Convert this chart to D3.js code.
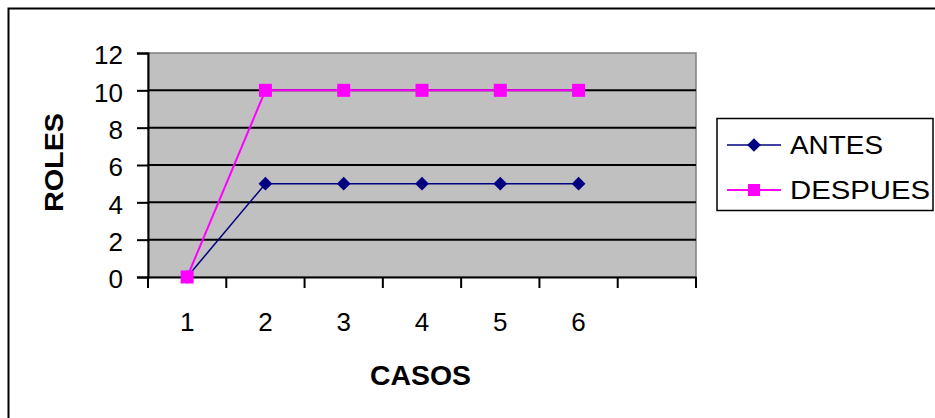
<!DOCTYPE html>
<html><head><meta charset="utf-8">
<script src="https://cdn.jsdelivr.net/npm/d3@7"></script>
<style>body{margin:0;background:#fff}svg{display:block}text{font-family:Arial,"Liberation Sans",sans-serif}</style>
</head><body>
<svg id="c" width="935" height="418"></svg>
<script>
const categories = ["1","2","3","4","5","6",""];
const antes = [0,5,5,5,5,5];
const despues = [0,10,10,10,10,10];
const yTicks = [0,2,4,6,8,10,12];
const seriesNames = ["ANTES","DESPUES"];

const svg = d3.select("#c");
const L=148,R=696,T=53,B=277;
// outer border
svg.append("rect").attr("x",8.5).attr("y",8.5).attr("width",940).attr("height",420)
  .attr("fill","#fff").attr("stroke","#000").attr("stroke-width",2);

const x = d3.scaleBand().domain(d3.range(categories.length)).range([L,R]).padding(0);
const y = d3.scaleLinear().domain([0,12]).range([B,T]);

svg.append("rect").attr("x",L).attr("y",T).attr("width",R-L).attr("height",B-T)
  .attr("fill","#C0C0C0").attr("stroke","#808080").attr("stroke-width",1.5);

// gridlines
svg.append("g").selectAll("line").data(yTicks.filter(d=>d>0&&d<12)).join("line")
  .attr("x1",L).attr("x2",R).attr("y1",d=>y(d)).attr("y2",d=>y(d))
  .attr("stroke","#000").attr("stroke-width",2);

// y axis
const ya = svg.append("g").attr("transform",`translate(${L},0)`)
  .call(d3.axisLeft(y).tickValues(yTicks).tickSize(11).tickPadding(14));
ya.select(".domain").attr("stroke","#000").attr("stroke-width",2);
ya.selectAll(".tick line").attr("stroke","#000").attr("stroke-width",2);
ya.selectAll("text").attr("font-size",26).attr("fill","#000").attr("dy","0.42em");

// x axis
const xa = svg.append("g").attr("transform",`translate(0,${B})`)
  .call(d3.axisBottom(x).tickFormat(i=>categories[i]).tickSize(0).tickPadding(36));
xa.select(".domain").attr("stroke","#000").attr("stroke-width",2);
xa.selectAll("text").attr("font-size",26).attr("fill","#000");
const edges = d3.range(categories.length+1).map(i=> i<categories.length ? x(i) : x(categories.length-1)+x.bandwidth());
svg.append("g").selectAll("line").data(edges).join("line")
  .attr("x1",d=>d).attr("x2",d=>d).attr("y1",B).attr("y2",B+11)
  .attr("stroke","#000").attr("stroke-width",2);

const cx = i => x(i)+x.bandwidth()/2;
const line = d3.line().x((d,i)=>cx(i)).y(d=>y(d));
svg.append("path").datum(antes).attr("d",line).attr("fill","none").attr("stroke","#000080").attr("stroke-width",1.5);
svg.append("path").datum(despues).attr("d",line).attr("fill","none").attr("stroke","#FF00FF").attr("stroke-width",2);
const diamond = d3.symbol().type(d3.symbolDiamond2).size(120);
svg.append("g").selectAll("path").data(antes).join("path")
  .attr("d",diamond).attr("transform",(d,i)=>`translate(${cx(i)},${y(d)})`).attr("fill","#000080");
svg.append("g").selectAll("rect").data(despues).join("rect")
  .attr("x",(d,i)=>cx(i)-6.5).attr("y",d=>y(d)-6.5).attr("width",13).attr("height",13).attr("fill","#FF00FF");

// axis titles
svg.append("text").attr("x",370).attr("y",385)
  .attr("font-size",28).attr("font-weight","bold")
  .attr("textLength",101).attr("lengthAdjust","spacingAndGlyphs").text("CASOS");
svg.append("text").attr("transform","translate(63,212) rotate(-90)")
  .attr("font-size",26).attr("font-weight","bold")
  .attr("textLength",99).attr("lengthAdjust","spacingAndGlyphs").text("ROLES");

// legend
const lg = svg.append("g");
lg.append("rect").attr("x",717).attr("y",118.5).attr("width",216).attr("height",92)
  .attr("fill","#fff").attr("stroke","#000").attr("stroke-width",1.5);
const lc = ["#000080","#FF00FF"];
const tl = [93,140];
seriesNames.forEach((n,i)=>{
  const yy = 145 + i*45;
  lg.append("line").attr("x1",727).attr("x2",781).attr("y1",yy).attr("y2",yy).attr("stroke",lc[i]).attr("stroke-width",i?2:1.5);
  if(i===0) lg.append("path").attr("d",diamond).attr("transform",`translate(754,${yy})`).attr("fill",lc[0]);
  else lg.append("rect").attr("x",748).attr("y",yy-6).attr("width",12).attr("height",12).attr("fill",lc[1]);
  lg.append("text").attr("x",790).attr("y",yy+9).attr("font-size",25)
    .attr("textLength",tl[i]).attr("lengthAdjust","spacingAndGlyphs").text(n);
});
</script>
</body></html>
